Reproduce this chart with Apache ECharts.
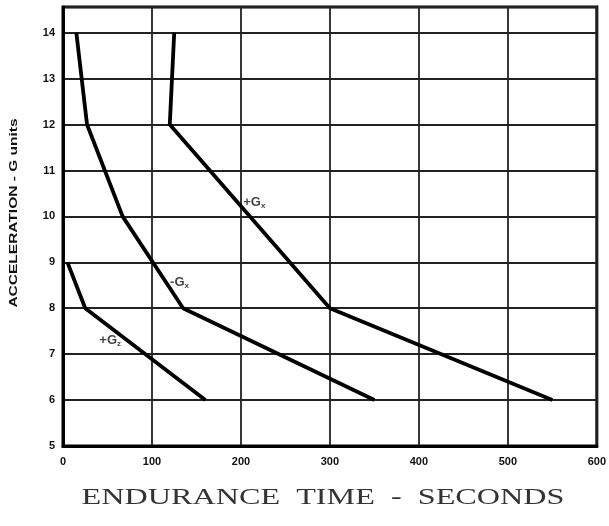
<!DOCTYPE html>
<html>
<head>
<meta charset="utf-8">
<script src="https://cdn.jsdelivr.net/npm/echarts@6/dist/echarts.min.js"></script>
<style>
  html, body { margin: 0; padding: 0; background: #fff; }
  #chart { width: 609px; height: 526px; }
</style>
</head>
<body>
<div id="chart"></div>
<script>
// endurance time (s) vs acceleration (G) for the three curves
const gxPlus = [[125, 14], [120, 12], [300, 8], [550, 6]]
const gxMinus = [[15, 14], [27, 12], [67, 10], [135, 8], [350, 6]]
const gzPlus = [[5, 9], [25, 8], [160, 6]]

const xTicks = [0, 100, 200, 300, 400, 500, 600]
const yTicks = [5, 6, 7, 8, 9, 10, 11, 12, 13, 14]

// curve labels: [time, g, prefix, sub]
const curveLabels = [
  [215, 10.3, '+G', 'x'],
  [131, 8.57, '-G', 'x'],
  [53, 7.3, '+G', 'z'],
]

const chart = echarts.init(document.getElementById('chart'))

const lineStyle = { color: '#000', width: 3.8 }
function curve(data) {
  return {
    type: 'line',
    data: data,
    symbol: 'none',
    lineStyle: lineStyle,
    z: 5,
    silent: true,
  }
}

chart.setOption({
  animation: false,
  backgroundColor: '#fff',
  grid: {
    left: 63, right: 9, top: 7, bottom: 80,
    show: true, borderColor: '#000', borderWidth: 3,
  },
  xAxis: {
    type: 'value',
    min: xTicks[0],
    max: xTicks[xTicks.length - 1],
    interval: 100,
    axisLine: { show: true, lineStyle: { color: '#000', width: 3 } },
    axisTick: { show: false },
    splitLine: { show: true, lineStyle: { color: '#222', width: 1.8 } },
    axisLabel: {
      color: '#111', fontFamily: 'Liberation Sans', fontWeight: 'bold',
      fontSize: 11, margin: 10,
      formatter: (v) => (xTicks.includes(v) ? String(v) : ''),
    },
  },
  yAxis: {
    type: 'value',
    min: yTicks[0],
    max: 14.56,
    interval: 1,
    axisLine: { show: true, lineStyle: { color: '#000', width: 3 } },
    axisTick: { show: false },
    splitLine: { show: true, lineStyle: { color: '#222', width: 1.8 } },
    axisLabel: {
      color: '#111', fontFamily: 'Liberation Sans', fontWeight: 'bold',
      fontSize: 11, margin: 8,
      formatter: (v) => (yTicks.includes(v) ? String(v) : ''),
    },
  },
  series: [
    curve(gxPlus),
    curve(gxMinus),
    curve(gzPlus),
    {
      type: 'scatter',
      symbolSize: 0,
      silent: true,
      data: curveLabels.map((l) => ({ value: [l[0], l[1]], pre: l[2], sub: l[3] })),
      label: {
        show: true,
        position: 'inside',
        formatter: (p) => '{a|' + p.data.pre + '}{b|' + p.data.sub + '}',
        rich: {
          a: { fontFamily: 'Liberation Sans', fontWeight: 'bold', fontSize: 13, color: '#111' },
          b: { fontFamily: 'Liberation Sans', fontWeight: 'bold', fontSize: 8, color: '#111', padding: [7, 0, 0, 0] },
        },
      },
    },
  ],
  graphic: [
    {
      type: 'text',
      x: 14, y: 213,
      rotation: Math.PI / 2,
      scaleX: 1.55,
      style: {
        text: 'ACCELERATION - G units',
        font: 'bold 10px Liberation Sans',
        fill: '#111',
        align: 'center',
        verticalAlign: 'middle',
      },
    },
    {
      type: 'text',
      x: 323, y: 498,
      scaleX: 1.4,
      style: {
        text: 'ENDURANCE  TIME  -  SECONDS',
        font: '23px Liberation Serif',
        fill: '#333',
        align: 'center',
        verticalAlign: 'middle',
      },
    },
  ],
})
</script>
</body>
</html>
